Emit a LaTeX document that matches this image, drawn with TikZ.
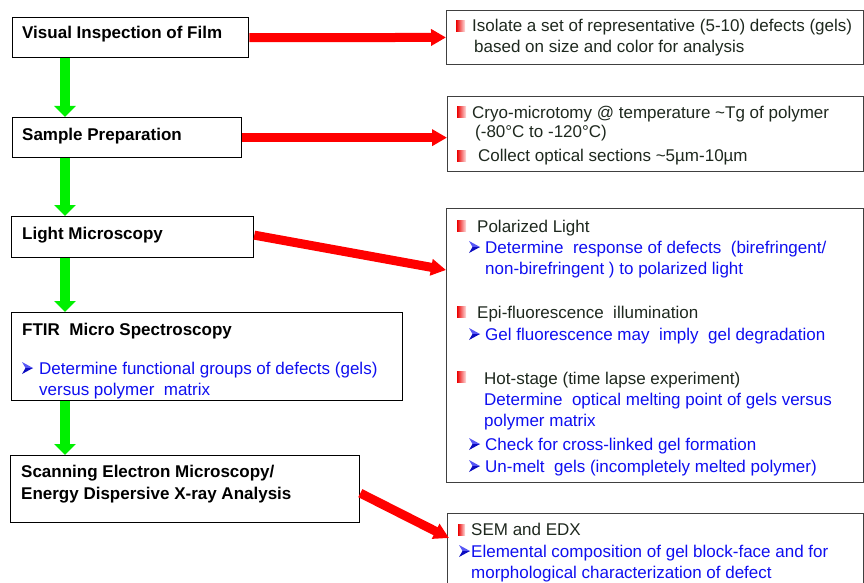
\documentclass[tikz,border=0pt]{standalone}
\usepackage{fontspec}
\setmainfont{Liberation Sans}
\usetikzlibrary{arrows.meta,calc}
\definecolor{gr}{RGB}{0,240,0}
\definecolor{rd}{RGB}{255,0,0}
\definecolor{bl}{RGB}{15,15,240}
\definecolor{tx}{RGB}{30,40,30}
\newcommand\sqbul[3][9]{\shade[left color=rd!92!black,middle color=rd,right color=rd!12] (#2,#3) rectangle ++(#1,-11);}
\newcommand\arbul[2]{\fill[bl!70!white] (#1,#2-12) -- (#1+11,#2-6) -- (#1+3.5,#2-6) -- cycle;
 \fill[bl!80!black] (#1+3.5,#2-6) -- (#1+11,#2-6) -- (#1,#2) -- cycle;}
\begin{document}
\begin{tikzpicture}[x=1pt,y=-1pt,
 lbox/.style={draw=black,line width=1.3pt,fill=white,inner sep=0,anchor=north west},
 rbox/.style={draw=black!75,line width=0.9pt,inner sep=0,anchor=north west},
 ttl/.style={anchor=base west,inner sep=0,font=\fontsize{17}{20}\selectfont\bfseries},
 txt/.style={anchor=base west,inner sep=0,font=\fontsize{17}{20}\selectfont,text=tx},
 btx/.style={txt,text=bl},
 garrow/.style={draw=gr,line width=10pt,-{Triangle[width=21pt,length=11pt]}},
 rarrow/.style={draw=rd,line width=9pt,-{Triangle[width=16pt,length=15pt]}},
]
\clip (0,0) rectangle (864,583);
% left boxes
\node[lbox,minimum width=236pt,minimum height=40pt] (L1) at (12,17) {};
\node[lbox,minimum width=229pt,minimum height=40pt] (L2) at (12,117) {};
\node[lbox,minimum width=242pt,minimum height=41pt] (L3) at (11,216) {};
\node[lbox,minimum width=391pt,minimum height=88pt] (L4) at (11,312) {};
\node[lbox,minimum width=349pt,minimum height=67pt] (L5) at (10,455) {};
% right boxes
\node[rbox,minimum width=417pt,minimum height=54pt] (R1) at (446,10) {};
\node[rbox,minimum width=416pt,minimum height=75pt] (R2) at (447,96) {};
\node[rbox,minimum width=417pt,minimum height=274pt] (R3) at (446,208) {};
\node[rbox,minimum width=416pt,minimum height=90pt] (R4) at (447,513) {};
% green arrows
\coordinate (gx) at (65,0);
\draw[garrow] (L1.south -| gx) -- (L2.north -| gx);
\draw[garrow] (L2.south -| gx) -- (L3.north -| gx);
\draw[garrow] (L3.south -| gx) -- (L4.north -| gx);
\draw[garrow] (L4.south -| gx) -- (L5.north -| gx);
% red arrows
\draw[rarrow] (L1.east) -- (R1.west);
\draw[rarrow] (L2.east) -- (L2.east -| R2.west);
\draw[rarrow] ([yshift=2pt]L3.east) -- ($(R3.north west)+(0,62)$);
\draw[rarrow] ([yshift=-4pt]L5.east) -- ($(R4.north west)+(2,25)$);
% left texts
\node[ttl] (t1) at (22,39) {Visual Inspection of Film};
\node[ttl] (t2) at (22,140) {Sample Preparation};
\node[ttl] (t3) at (22,239) {Light Microscopy};
\node[ttl] (t4) at (22,335) {FTIR\ \ Micro Spectroscopy};
\arbul{22}{374}
\node[btx] (t4a) at (39,374) {Determine functional groups of defects (gels)};
\node[btx] (t4b) at (39,395) {versus polymer\ \ matrix};
\node[ttl] (t5a) at (21,477) {Scanning Electron Microscopy/};
\node[ttl] (t5b) at (21,499) {Energy Dispersive X-ray Analysis};
% R1
\sqbul{456}{32}
\node[txt] (a1) at (472,32) {Isolate a set of representative (5-10) defects (gels)};
\node[txt] (a2) at (474,53) {based on size and color for analysis};
% R2
\sqbul{457}{118}
\node[txt] (b1) at (472,118) {Cryo-microtomy @ temperature \textasciitilde Tg of polymer};
\node[txt] (b2) at (475,138) {(-80°C to -120°C)};
\sqbul{457}{161}
\node[txt] (b3) at (478,161) {Collect optical sections \textasciitilde 5µm-10µm};
% R3
\sqbul{457}{231}
\node[txt] (c1) at (477,232) {Polarized Light};
\arbul{469}{253}
\node[btx] (c2) at (485,253) {Determine\ \ response of defects\ \ (birefringent/};
\node[btx] (c3) at (485,274) {non-birefringent ) to polarized light};
\sqbul{457}{317}
\node[txt] (c4) at (477,318) {Epi-fluorescence\ \ illumination};
\arbul{469}{340}
\node[btx] (c5) at (485,340) {Gel fluorescence may\ \ imply\ \ gel degradation};
\sqbul{457}{382}
\node[txt] (c6) at (484,384) {Hot-stage (time lapse experiment)};
\node[btx] (c7) at (484,405) {Determine\ \ optical melting point of gels versus};
\node[btx] (c8) at (484,426) {polymer matrix};
\arbul{469}{450}
\node[btx] (c9) at (485,450) {Check for cross-linked gel formation};
\arbul{469}{472}
\node[btx] (c10) at (485,472) {Un-melt\ \ gels (incompletely melted polymer)};
% R4
\sqbul[7]{458}{535}
\node[txt] (d1) at (471,535) {SEM and EDX};
\arbul{459}{557}
\node[btx] (d2) at (471,557) {Elemental composition of gel block-face and for};
\node[btx] (d3) at (471,578) {morphological characterization of defect};
\end{tikzpicture}
\end{document}
